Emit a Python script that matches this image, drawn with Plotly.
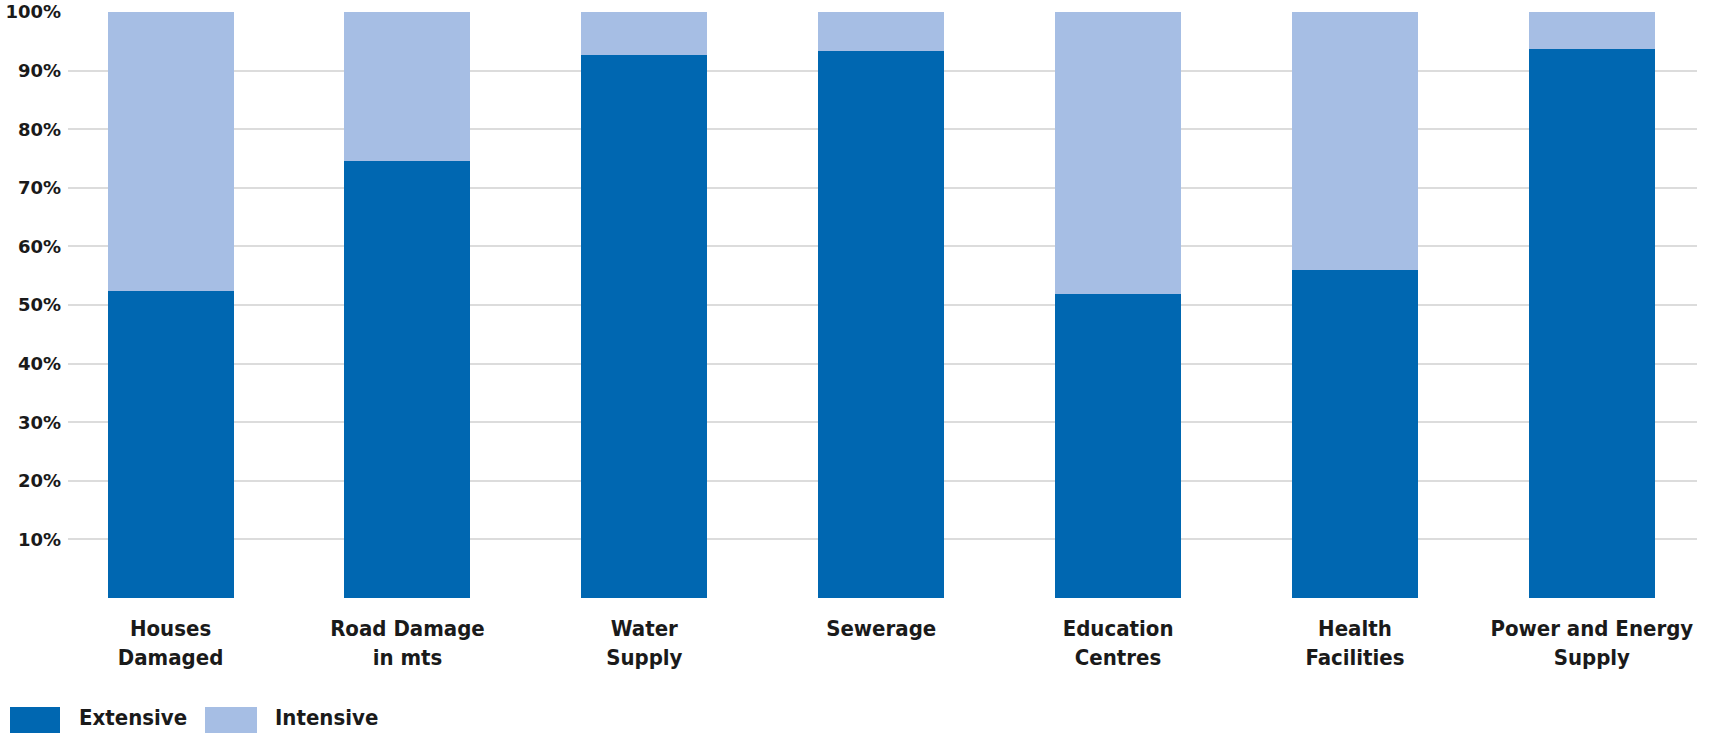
import plotly.graph_objects as go

categories = ["Houses<br>Damaged", "Road Damage<br>in mts", "Water<br>Supply", "Sewerage",
              "Education<br>Centres", "Health<br>Facilities", "Power and Energy<br>Supply"]
extensive = [52.4, 74.5, 92.6, 93.3, 51.8, 55.9, 93.7]
intensive = [47.6, 25.5, 7.4, 6.7, 48.2, 44.1, 6.3]
y_tickvals = [10, 20, 30, 40, 50, 60, 70, 80, 90, 100]
y_ticktext = ["10%", "20%", "30%", "40%", "50%", "60%", "70%", "80%", "90%", "100%"]

DARK = "#0067B1"
LIGHT = "#A6BEE4"
XFONT = "DejaVu Sans Condensed"
YFONT = "DejaVu Sans"
TXT = "#1a1a1a"

W, H = 1721, 733
L, R, T, B = 68, 24, 12, 135
PW, PH = W - L - R, H - T - B


def px_x(p):
    return (p - L) / PW


def px_y(p):
    return (H - B - p) / PH


fig = go.Figure()
fig.add_trace(go.Bar(x=categories, y=extensive, name="Extensive", marker=dict(color=DARK, line=dict(width=0)),
                     width=0.532))
fig.add_trace(go.Bar(x=categories, y=intensive, name="Intensive", marker=dict(color=LIGHT, line=dict(width=0)),
                     width=0.532))

fig.update_layout(
    barmode="stack",
    width=W, height=H,
    margin=dict(l=L, r=R, t=T, b=B, pad=0, autoexpand=False),
    paper_bgcolor="white", plot_bgcolor="white",
    showlegend=False,
    font=dict(family=XFONT, color=TXT),
)
fig.update_xaxes(
    range=[-0.433, 6.444], showgrid=False, zeroline=False, showline=False, ticks="", automargin=False,
    tickfont=dict(family=XFONT, size=22, color=TXT, weight=700), ticklabelstandoff=15,
)
fig.update_yaxes(
    range=[0, 100], tickvals=y_tickvals, ticktext=y_ticktext, showgrid=True, gridcolor="#DCDCDC",
    gridwidth=2, zeroline=False, showline=False, ticks="", ticklabeloverflow="allow", automargin=False,
    tickfont=dict(family=YFONT, size=18, color=TXT, weight=700), ticklabelstandoff=6,
)

legend_items = [("Extensive", DARK, 10, 60, 77), ("Intensive", LIGHT, 205, 257, 273)]
for name, col, x0, x1, tx in legend_items:
    fig.add_shape(type="rect", xref="paper", yref="paper", x0=px_x(x0), x1=px_x(x1),
                  y0=px_y(733), y1=px_y(707), fillcolor=col, line=dict(width=0), layer="above")
    fig.add_annotation(xref="paper", yref="paper", x=px_x(tx), y=px_y(717), text=name, showarrow=False,
                       xanchor="left", yanchor="middle",
                       font=dict(family=XFONT, size=22, color=TXT, weight=700))

fig.write_html("out.html", config={"displayModeBar": False},
               post_script="document.body.style.margin='0px';document.body.style.overflow='hidden';")
